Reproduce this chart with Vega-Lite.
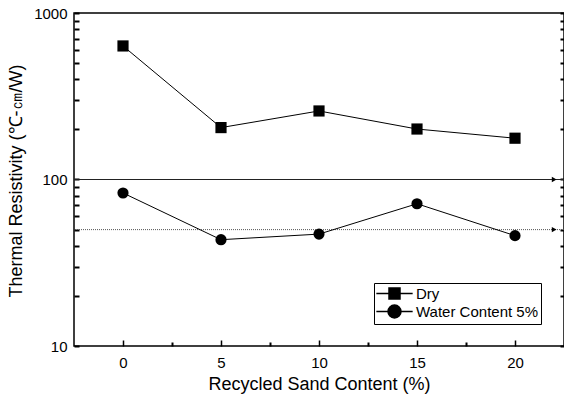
{
  "$schema": "https://vega.github.io/schema/vega-lite/v6.json",
  "width": 490,
  "height": 333,
  "autosize": {"type": "none"},
  "padding": {"left": 74, "top": 13, "right": 0, "bottom": 50},
  "background": "white",
  "config": {
    "view": {"stroke": "black", "strokeWidth": 1.5},
    "font": "Liberation Sans",
    "axis": {
      "grid": false,
      "domain": false,
      "labelFont": "Liberation Sans",
      "titleFont": "Liberation Sans",
      "labelColor": "black",
      "titleColor": "black",
      "tickColor": "black",
      "tickWidth": 1.5,
      "titleFontWeight": "normal",
      "labelFontSize": 15,
      "titleFontSize": 18
    }
  },
  "datasets": {
    "main": [
      {"content": 0, "resistivity": 634, "series": "Dry"},
      {"content": 5, "resistivity": 205, "series": "Dry"},
      {"content": 10, "resistivity": 258, "series": "Dry"},
      {"content": 15, "resistivity": 201, "series": "Dry"},
      {"content": 20, "resistivity": 177, "series": "Dry"},
      {"content": 0, "resistivity": 83, "series": "Water Content 5%"},
      {"content": 5, "resistivity": 43.5, "series": "Water Content 5%"},
      {"content": 10, "resistivity": 47, "series": "Water Content 5%"},
      {"content": 15, "resistivity": 71.5, "series": "Water Content 5%"},
      {"content": 20, "resistivity": 46, "series": "Water Content 5%"}
    ],
    "ref": [
      {"level": 100, "style": "solid"},
      {"level": 50, "style": "dotted"}
    ]
  },
  "resolve": {"axis": {"x": "independent", "y": "independent"}, "scale": {"shape": "independent"}},
  "layer": [
    {
      "data": {"name": "ref"},
      "mark": {"type": "rule", "strokeWidth": 1},
      "encoding": {
        "y": {
          "field": "level",
          "type": "quantitative",
          "scale": {"type": "log", "domain": [10, 1000]},
          "axis": {
            "orient": "right",
            "values": [10, 20, 30, 40, 50, 60, 70, 80, 90, 100, 200, 300, 400, 500, 600, 700, 800, 900, 1000],
            "labels": false,
            "title": null,
            "tickSize": -4,
            "tickWidth": 2
          }
        },
        "strokeDash": {
          "field": "style",
          "type": "nominal",
          "scale": {"domain": ["solid", "dotted"], "range": [[1, 0], [1, 1]]},
          "legend": null
        },
        "color": {
          "field": "style",
          "type": "nominal",
          "scale": {"domain": ["solid", "dotted"], "range": ["#222222", "#555555"]},
          "legend": null
        }
      }
    },
    {
      "data": {"name": "ref"},
      "mark": {"type": "point", "shape": "triangle-right", "filled": true, "color": "black", "size": 30, "opacity": 1},
      "encoding": {
        "x": {"datum": 22, "type": "quantitative", "scale": {"domain": [-2.5, 22.5]}, "axis": null},
        "y": {"field": "level", "type": "quantitative", "scale": {"type": "log", "domain": [10, 1000]}, "axis": null}
      }
    },
    {
      "data": {"name": "main"},
      "mark": {"type": "line", "color": "black", "strokeWidth": 1},
      "encoding": {
        "x": {
          "field": "content",
          "type": "quantitative",
          "scale": {"domain": [-2.5, 22.5]},
          "axis": {
            "orient": "bottom",
            "values": [0, 5, 10, 15, 20],
            "tickSize": -6,
            "labelPadding": 15,
            "title": "Recycled Sand Content (%)",
            "titlePadding": 5
          }
        },
        "y": {
          "field": "resistivity",
          "type": "quantitative",
          "scale": {"type": "log", "domain": [10, 1000]},
          "axis": {
            "orient": "left",
            "values": [10, 20, 30, 40, 50, 60, 70, 80, 90, 100, 200, 300, 400, 500, 600, 700, 800, 900, 1000],
            "format": "d",
            "labelExpr": "indexof([10,100,1000], datum.value) >= 0 ? datum.label : ''",
            "tickSize": -5,
            "tickWidth": 2,
            "labelPadding": 12,
            "title": "Thermal Resistivity (℃-㎝/W)",
            "titlePadding": 8,
            "titleY": 284,
            "titleAlign": "left"
          }
        },
        "detail": {"field": "series", "type": "nominal"}
      }
    },
    {
      "data": {"name": "main"},
      "mark": {"type": "point", "filled": true, "color": "black", "opacity": 1, "size": 125},
      "encoding": {
        "x": {
          "field": "content",
          "type": "quantitative",
          "scale": {"domain": [-2.5, 22.5]},
          "axis": {"orient": "bottom", "values": [2.5, 7.5, 12.5, 17.5], "labels": false, "title": null, "tickSize": -4, "tickWidth": 2}
        },
        "y": {"field": "resistivity", "type": "quantitative", "scale": {"type": "log", "domain": [10, 1000]}, "axis": null},
        "shape": {
          "field": "series",
          "type": "nominal",
          "scale": {"domain": ["Dry", "Water Content 5%"], "range": ["square", "circle"]},
          "legend": null
        }
      }
    },
    {
      "data": {"name": "main"},
      "transform": [{"filter": "false"}],
      "mark": {"type": "point", "filled": true, "fill": "black", "stroke": "black", "strokeWidth": 1, "opacity": 1, "size": 121},
      "encoding": {
        "x": {"field": "content", "type": "quantitative", "scale": {"domain": [-2.5, 22.5]}, "axis": null},
        "y": {"field": "resistivity", "type": "quantitative", "scale": {"type": "log", "domain": [10, 1000]}, "axis": null},
        "shape": {
          "field": "series",
          "type": "nominal",
          "scale": {
            "domain": ["Dry", "Water Content 5%"],
            "range": ["M-3.3,0H-1M1,0H3.3M-1,-1H1V1H-1Z", "M-3.3,0H-1.18M1.18,0H3.3M-1.18,0A1.18,1.18 0 1,0 1.18,0A1.18,1.18 0 1,0 -1.18,0Z"]
          },
          "legend": {
            "title": null,
            "orient": "none",
            "legendX": 300,
            "legendY": 270,
            "strokeColor": "black",
            "fillColor": "white",
            "padding": 3,
            "cornerRadius": 0,
            "labelFont": "Liberation Sans",
            "labelFontSize": 15,
            "labelColor": "black",
            "symbolSize": 121,
            "symbolOffset": 10,
            "labelOffset": 14,
            "rowPadding": 0,
            "encode": {
              "symbols": {
                "update": {
                  "stroke": {"value": "black"},
                  "strokeWidth": {"value": 1},
                  "fill": {"value": "black"},
                  "opacity": {"value": 1}
                }
              }
            }
          }
        }
      }
    }
  ]
}
